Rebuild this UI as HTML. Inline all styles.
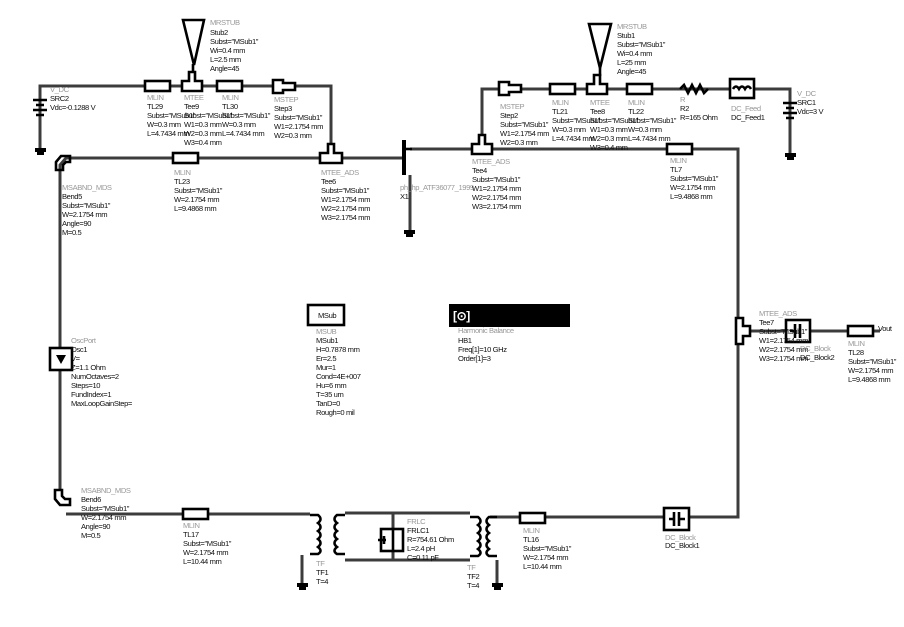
<!DOCTYPE html>
<html><head><style>
html,body{margin:0;padding:0;background:#fff;}
svg{display:block}
text{font-family:"Liberation Sans",sans-serif;font-size:7.6px;fill:#111;letter-spacing:-0.4px}
.g{fill:#999}
.w{stroke:#3c3c3c;stroke-width:3;fill:none}
.c{stroke:#000;stroke-width:2.6;fill:#fff}
.k{stroke:#000;stroke-width:2.6;fill:none}
</style></head><body>
<svg width="904" height="627" viewBox="0 0 904 627" xmlns="http://www.w3.org/2000/svg">
<!-- wires -->
<polyline class="w" points="40,150 40,86 331,86 331,152"/>
<polyline class="w" points="60,490 60,165 66,158 404,158"/>
<polyline class="w" points="410,149 738,149 738,517 490,517"/>
<polyline class="w" points="482,145 482,89 790,89 790,155"/>
<line class="w" x1="410" y1="175" x2="410" y2="232"/>
<polyline class="w" points="66,514 310,514"/>
<polyline class="w" points="345,513 470,513"/>
<polyline class="w" points="345,560 470,560"/>
<line class="w" x1="393" y1="513" x2="393" y2="560"/>
<polyline class="w" points="302,555 302,585"/>
<polyline class="w" points="497,560 497,585"/>
<polyline class="w" points="745,331 880,331"/>
<!-- grounds -->
<g fill="#000">
<rect x="35" y="148" width="11" height="4"/><rect x="37" y="152" width="7" height="3"/>
<rect x="404" y="230" width="11" height="4"/><rect x="406" y="234" width="7" height="3"/>
<rect x="785" y="153" width="11" height="4"/><rect x="787" y="157" width="7" height="3"/>
<rect x="297" y="583" width="11" height="4"/><rect x="299" y="587" width="7" height="3"/>
<rect x="492" y="583" width="11" height="4"/><rect x="494" y="587" width="7" height="3"/>
</g>
<!-- SRC2 / SRC1 batteries -->
<path class="k" d="M33,100 h14 M36,105 h8 M33,110 h14 M36,115 h8"/>
<path class="k" d="M783,103 h14 M786,108 h8 M783,113 h14 M786,118 h8"/>
<!-- MLINs -->
<rect class="c" x="145" y="81" width="25" height="10"/>
<rect class="c" x="217" y="81" width="25" height="10"/>
<rect class="c" x="173" y="153" width="25" height="10"/>
<rect class="c" x="550" y="84" width="25" height="10"/>
<rect class="c" x="627" y="84" width="25" height="10"/>
<rect class="c" x="667" y="144" width="25" height="10"/>
<rect class="c" x="183" y="509" width="25" height="10"/>
<rect class="c" x="520" y="513" width="25" height="10"/>
<rect class="c" x="848" y="326" width="25" height="10"/>
<!-- Tees -->
<path class="c" d="M182,81 h7 v-9 h6 v9 h7 v10 h-20z"/>
<path class="c" d="M587,84 h7 v-9 h6 v9 h7 v10 h-20z"/>
<path class="c" d="M320,153 h8 v-9 h6 v9 h8 v10 h-22z"/>
<path class="c" d="M472,144 h7 v-9 h6 v9 h7 v10 h-20z"/>
<path class="c" d="M736,318 h7 v8 h7 v10 h-7 v8 h-7z"/>
<!-- Steps -->
<path class="c" d="M273,80 h10 v3 h12 v7 h-12 v3 h-10z"/>
<path class="c" d="M499,82 h10 v3 h12 v7 h-12 v3 h-10z"/>
<!-- stubs -->
<path class="k" d="M183,20 h21 l-10,45z"/><line class="k" x1="193" y1="64" x2="193" y2="73"/>
<path class="k" d="M589,24 h22 l-11,44z"/><line class="k" x1="600" y1="68" x2="600" y2="76"/>
<!-- resistor -->
<polyline class="k" points="680,89 684,85 688,93 692,85 696,93 700,85 704,93 708,89"/>
<!-- DC feed -->
<rect class="c" x="730" y="79" width="24" height="19"/>
<path class="k" d="M733,89 q3,-5 6,0 q3,-5 6,0 q3,-5 6,0"/>
<!-- transistor -->
<line class="k" x1="404" y1="140" x2="404" y2="175" style="stroke-width:4"/>
<line class="k" x1="404" y1="149" x2="412" y2="149"/>
<!-- bends -->
<path class="k" d="M56,170 v-8 l5,-6 h9 v6 h-4 l-3,3 v5z"/>
<path class="k" d="M55,490 v9 l5,6 h10 v-6 h-5 l-3,-3 v-6z"/>
<!-- OscPort -->
<rect class="c" x="50" y="348" width="22" height="22"/>
<path d="M56,355 h10 l-5,9z" fill="#000"/>
<!-- TF1, TF2 -->
<path class="k" d="M310,515 h8 q5,4 0,8 q5,4 0,8 q5,4 0,8 q5,4 0,8 q5,4 0,7 h-8"/>
<path class="k" d="M345,515 h-8 q-5,4 0,8 q-5,4 0,8 q-5,4 0,8 q-5,4 0,8 q-5,4 0,7 h8"/>
<path class="k" d="M470,517 h8 q5,4 0,8 q5,4 0,8 q5,4 0,8 q5,4 0,8 q5,4 0,7 h-8"/>
<path class="k" d="M497,517 h-8 q-5,4 0,8 q-5,4 0,8 q-5,4 0,8 q-5,4 0,8 q-5,4 0,7 h8"/>
<!-- FRLC -->
<rect class="c" x="381" y="529" width="22" height="22"/>
<path class="k" d="M378,540 h8 M384,536 v8 M393,530 v20"/>
<!-- DC blocks -->
<rect class="c" x="664" y="508" width="25" height="22"/>
<path class="k" d="M669,519 h5 M674,512 v14 M679,512 v14 M679,519 h6"/>
<rect class="c" x="786" y="320" width="24" height="22"/>
<path class="k" d="M790,331 h5 M795,324 v14 M800,324 v14"/>
<!-- MSub, HB -->
<rect class="c" x="308" y="305" width="36" height="20"/>
<text x="318" y="318">MSub</text>
<rect x="449" y="304" width="121" height="23" fill="#000"/>
<text x="453" y="320" style="fill:#fff;font-size:12px;font-weight:bold">[⊙]</text>

<!-- labels -->
<text class="g" x="210" y="25">MRSTUB</text>
<text x="210" y="35">Stub2</text><text x="210" y="44">Subst="MSub1"</text><text x="210" y="53">Wi=0.4 mm</text><text x="210" y="62">L=2.5 mm</text><text x="210" y="71">Angle=45</text>
<text class="g" x="50" y="92">V_DC</text>
<text x="50" y="101">SRC2</text><text x="50" y="110">Vdc=-0.1288 V</text>
<text class="g" x="147" y="100">MLIN</text><text x="147" y="109">TL29</text><text x="147" y="118">Subst="MSub1"</text><text x="147" y="127">W=0.3 mm</text><text x="147" y="136">L=4.7434 mm</text>
<text class="g" x="184" y="100">MTEE</text><text x="184" y="109">Tee9</text><text x="184" y="118">Subst="MSub1"</text><text x="184" y="127">W1=0.3 mm</text><text x="184" y="136">W2=0.3 mm</text><text x="184" y="145">W3=0.4 mm</text>
<text class="g" x="222" y="100">MLIN</text><text x="222" y="109">TL30</text><text x="222" y="118">Subst="MSub1"</text><text x="222" y="127">W=0.3 mm</text><text x="222" y="136">L=4.7434 mm</text>
<text class="g" x="274" y="102">MSTEP</text><text x="274" y="111">Step3</text><text x="274" y="120">Subst="MSub1"</text><text x="274" y="129">W1=2.1754 mm</text><text x="274" y="138">W2=0.3 mm</text>
<text class="g" x="174" y="175">MLIN</text><text x="174" y="184">TL23</text><text x="174" y="193">Subst="MSub1"</text><text x="174" y="202">W=2.1754 mm</text><text x="174" y="211">L=9.4868 mm</text>
<text class="g" x="321" y="175">MTEE_ADS</text><text x="321" y="184">Tee6</text><text x="321" y="193">Subst="MSub1"</text><text x="321" y="202">W1=2.1754 mm</text><text x="321" y="211">W2=2.1754 mm</text><text x="321" y="220">W3=2.1754 mm</text>
<text class="g" x="62" y="190">MSABND_MDS</text><text x="62" y="199">Bend5</text><text x="62" y="208">Subst="MSub1"</text><text x="62" y="217">W=2.1754 mm</text><text x="62" y="226">Angle=90</text><text x="62" y="235">M=0.5</text>
<text class="g" x="400" y="190">ph_hp_ATF36077_1999</text><text x="400" y="199">X1</text>
<text class="g" x="617" y="29">MRSTUB</text><text x="617" y="38">Stub1</text><text x="617" y="47">Subst="MSub1"</text><text x="617" y="56">Wi=0.4 mm</text><text x="617" y="65">L=25 mm</text><text x="617" y="74">Angle=45</text>
<text class="g" x="500" y="109">MSTEP</text><text x="500" y="118">Step2</text><text x="500" y="127">Subst="MSub1"</text><text x="500" y="136">W1=2.1754 mm</text><text x="500" y="145">W2=0.3 mm</text>
<text class="g" x="552" y="105">MLIN</text><text x="552" y="114">TL21</text><text x="552" y="123">Subst="MSub1"</text><text x="552" y="132">W=0.3 mm</text><text x="552" y="141">L=4.7434 mm</text>
<text class="g" x="590" y="105">MTEE</text><text x="590" y="114">Tee8</text><text x="590" y="123">Subst="MSub1"</text><text x="590" y="132">W1=0.3 mm</text><text x="590" y="141">W2=0.3 mm</text><text x="590" y="150">W3=0.4 mm</text>
<text class="g" x="628" y="105">MLIN</text><text x="628" y="114">TL22</text><text x="628" y="123">Subst="MSub1"</text><text x="628" y="132">W=0.3 mm</text><text x="628" y="141">L=4.7434 mm</text>
<text class="g" x="680" y="102">R</text><text x="680" y="111">R2</text><text x="680" y="120">R=165 Ohm</text>
<text class="g" x="731" y="111">DC_Feed</text><text x="731" y="120">DC_Feed1</text>
<text class="g" x="797" y="96">V_DC</text><text x="797" y="105">SRC1</text><text x="797" y="114">Vdc=3 V</text>
<text class="g" x="472" y="164">MTEE_ADS</text><text x="472" y="173">Tee4</text><text x="472" y="182">Subst="MSub1"</text><text x="472" y="191">W1=2.1754 mm</text><text x="472" y="200">W2=2.1754 mm</text><text x="472" y="209">W3=2.1754 mm</text>
<text class="g" x="670" y="163">MLIN</text><text x="670" y="172">TL7</text><text x="670" y="181">Subst="MSub1"</text><text x="670" y="190">W=2.1754 mm</text><text x="670" y="199">L=9.4868 mm</text>
<text class="g" x="316" y="334">MSUB</text><text x="316" y="343">MSub1</text><text x="316" y="352">H=0.7878 mm</text><text x="316" y="361">Er=2.5</text><text x="316" y="370">Mur=1</text><text x="316" y="379">Cond=4E+007</text><text x="316" y="388">Hu=6 mm</text><text x="316" y="397">T=35 um</text><text x="316" y="406">TanD=0</text><text x="316" y="415">Rough=0 mil</text>
<text class="g" x="458" y="333">Harmonic Balance</text><text x="458" y="343">HB1</text><text x="458" y="352">Freq[1]=10 GHz</text><text x="458" y="361">Order[1]=3</text>
<text class="g" x="71" y="343">OscPort</text><text x="71" y="352">Osc1</text><text x="71" y="361">V=</text><text x="71" y="370">Z=1.1 Ohm</text><text x="71" y="379">NumOctaves=2</text><text x="71" y="388">Steps=10</text><text x="71" y="397">FundIndex=1</text><text x="71" y="406">MaxLoopGainStep=</text>
<text class="g" x="759" y="316">MTEE_ADS</text><text x="759" y="325">Tee7</text><text x="759" y="334">Subst="MSub1"</text><text x="759" y="343">W1=2.1754 mm</text><text x="759" y="352">W2=2.1754 mm</text><text x="759" y="361">W3=2.1754 mm</text>
<text class="g" x="800" y="351">DC_Block</text><text x="800" y="360">DC_Block2</text>
<text x="878" y="331">Vout</text>
<text class="g" x="848" y="346">MLIN</text><text x="848" y="355">TL28</text><text x="848" y="364">Subst="MSub1"</text><text x="848" y="373">W=2.1754 mm</text><text x="848" y="382">L=9.4868 mm</text>
<text class="g" x="81" y="493">MSABND_MDS</text><text x="81" y="502">Bend6</text><text x="81" y="511">Subst="MSub1"</text><text x="81" y="520">W=2.1754 mm</text><text x="81" y="529">Angle=90</text><text x="81" y="538">M=0.5</text>
<text class="g" x="183" y="528">MLIN</text><text x="183" y="537">TL17</text><text x="183" y="546">Subst="MSub1"</text><text x="183" y="555">W=2.1754 mm</text><text x="183" y="564">L=10.44 mm</text>
<text class="g" x="316" y="566">TF</text><text x="316" y="575">TF1</text><text x="316" y="584">T=4</text>
<text class="g" x="407" y="524">FRLC</text><text x="407" y="533">FRLC1</text><text x="407" y="542">R=754.61 Ohm</text><text x="407" y="551">L=2.4 pH</text><text x="407" y="560">C=0.11 pF</text>
<text class="g" x="467" y="570">TF</text><text x="467" y="579">TF2</text><text x="467" y="588">T=4</text>
<text class="g" x="523" y="533">MLIN</text><text x="523" y="542">TL16</text><text x="523" y="551">Subst="MSub1"</text><text x="523" y="560">W=2.1754 mm</text><text x="523" y="569">L=10.44 mm</text>
<text class="g" x="665" y="540">DC_Block</text><text x="665" y="548">DC_Block1</text>
</svg>
</body></html>
